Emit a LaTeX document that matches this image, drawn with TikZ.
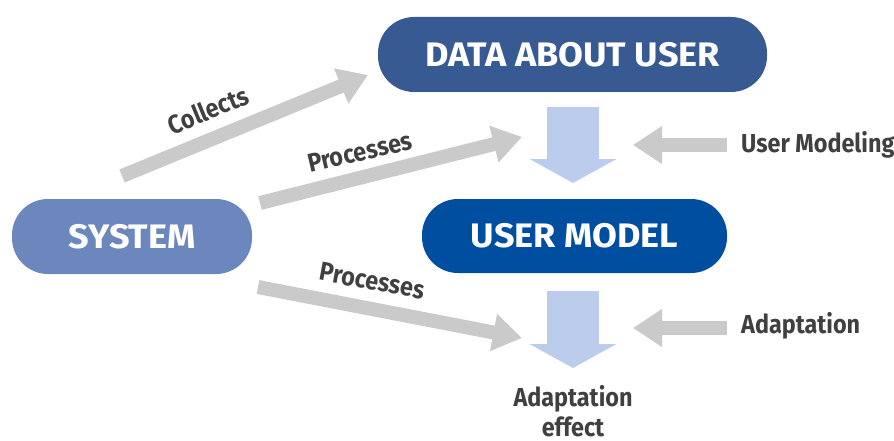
\documentclass[tikz,border=0pt]{standalone}
\usepackage{fontspec}
\usetikzlibrary{arrows.meta}
\newfontfamily\boxfont[FakeStretch=1.06]{Fira Sans}
\newfontfamily\lblfont[FakeStretch=0.9]{Fira Sans}
\definecolor{dataBlue}{RGB}{55,90,146}
\definecolor{sysBlue}{RGB}{107,135,190}
\definecolor{modelBlue}{RGB}{0,78,160}
\definecolor{flowBlue}{RGB}{188,204,236}
\definecolor{linkGray}{RGB}{202,202,202}
\definecolor{labelGray}{RGB}{64,64,64}
\tikzset{
  pill/.style={rounded corners=36pt, inner sep=0pt, text=white,
    font=\boxfont\bfseries\fontsize{34}{37}\selectfont},
  graylink/.style={draw=linkGray, line width=14pt,
    -{Triangle[length=29pt,width=36pt]}},
  bluelink/.style={draw=flowBlue, line width=52pt,
    -{Triangle[length=24pt,width=86pt]}},
  lbl/.style={text=labelGray, inner sep=0pt,
    font=\lblfont\bfseries\fontsize{26}{30}\selectfont},
}
\begin{document}
\begin{tikzpicture}[x=1pt,y=-1pt]
\useasboundingbox (0,0) rectangle (894,441);

% boxes
\node[pill, fill=dataBlue, minimum width=389pt, minimum height=75pt] (data) at (572.5,54.5) {DATA ABOUT USER};
\node[pill, fill=sysBlue, minimum width=240pt, minimum height=75pt] (sys) at (132,236.5) {SYSTEM};
\node[pill, fill=modelBlue, minimum width=305pt, minimum height=74pt] (model) at (574.5,236) {USER MODEL};

% ends of the connectors
\coordinate (collectS) at (122,176);
\coordinate (collectE) at (368,75);
\coordinate (procAS) at (260,203);
\coordinate (procAE) at (522,137);
\coordinate (procBS) at (258,287);
\coordinate (procBE) at (522,338);
\coordinate (modS) at (727,145);
\coordinate (modE) at (633,145);
\coordinate (adS) at (727,328);
\coordinate (adE) at (633,328);
\coordinate (flowAS) at (573,107);
\coordinate (flowAE) at (573,183);
\coordinate (flowBS) at (573,291);
\coordinate (flowBE) at (573,368);

% connectors
\draw[graylink] (collectS) -- (collectE);
\draw[graylink] (procAS) -- (procAE);
\draw[graylink] (procBS) -- (procBE);
\draw[graylink] (modS) -- (modE);
\draw[graylink] (adS) -- (adE);
\draw[bluelink] (flowAS) -- (flowAE);
\draw[bluelink] (flowBS) -- (flowBE);

% labels
\node[lbl, rotate=22.3] (lcollect) at (208,110) {Collects};
\node[lbl, rotate=13] (lprocA) at (360,152) {Processes};
\node[lbl, rotate=-10.5] (lprocB) at (372,281) {Processes};
\node[lbl, anchor=west] (lmod) at (741,145) {User Modeling};
\node[lbl, anchor=west] (lad) at (741,326) {Adaptation};
\node[lbl, anchor=north, align=center] (leffect) at (573,385) {Adaptation\\effect};
\end{tikzpicture}
\end{document}
